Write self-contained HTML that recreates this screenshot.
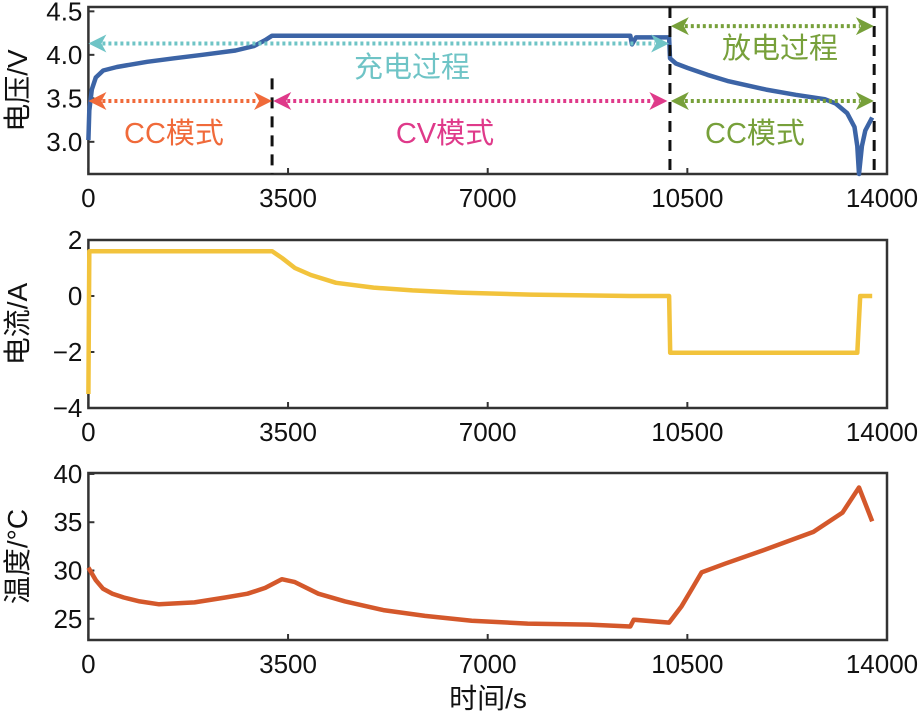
<!DOCTYPE html>
<html><head><meta charset="utf-8"><style>
body{margin:0;background:#fff;width:924px;height:716px;overflow:hidden}
svg{display:block}
text{font-family:"Liberation Sans","Noto Sans CJK SC",sans-serif}
</style></head><body>
<svg id="c" width="924" height="716" xmlns="http://www.w3.org/2000/svg"></svg>
<script>
const xTicks=[0,3500,7000,10500,14000];
const vTicks=[3.0,3.5,4.0,4.5];
const iTicks=[-4,-2,0,2];
const tTicks=[25,30,35,40];
const vTime=[0,15,60,130,260,500,1030,1500,2000,2580,2900,3100,3220,4650,9500,9530,9600,10180,10195,10300,10500,10850,11200,11880,12400,12910,13100,13300,13430,13480,13510,13560,13620,13740];
const vVals=[3.02,3.36,3.6,3.74,3.82,3.86,3.92,3.96,4.0,4.05,4.1,4.17,4.22,4.22,4.22,4.12,4.20,4.20,3.96,3.90,3.85,3.77,3.70,3.60,3.54,3.49,3.44,3.33,3.17,2.95,2.63,2.95,3.13,3.28];
const iTime=[0,15,3220,3400,3620,3900,4340,5000,5680,6500,7750,9500,10180,10200,13480,13530,13740];
const iVals=[-3.5,1.6,1.6,1.35,1.0,0.75,0.47,0.3,0.2,0.12,0.05,0,0,-2.03,-2.03,0,0];
const tTime=[0,130,258,420,620,900,1240,1860,2400,2790,3100,3390,3620,4030,4500,5170,5900,6720,7700,8780,9500,9560,10180,10400,10600,10750,11160,11880,12710,13220,13510,13740];
const tVals=[30.3,29.0,28.1,27.6,27.2,26.8,26.5,26.7,27.2,27.6,28.2,29.1,28.8,27.6,26.8,25.9,25.3,24.8,24.5,24.4,24.2,24.9,24.6,26.3,28.3,29.8,30.7,32.2,34.0,36.0,38.6,35.1];
const svg=document.getElementById('c');const NS='http://www.w3.org/2000/svg';
function mk(t,a,txt){const e=document.createElementNS(NS,t);for(const k in a)e.setAttribute(k,a[k]);if(txt!==undefined)e.textContent=txt;svg.appendChild(e);return e;}
const X0=88.4,X1=887;
const xs=v=>X0+(v/14000)*(X1-X0);
function panel(name,top,bot,ymin,ymax,yt,ylabel,time,vals,color,fmt){
  const ys=v=>bot-(v-ymin)/(ymax-ymin)*(bot-top);
  let r=mk('rect',{x:X0,y:top,width:X1-X0,height:bot-top,fill:'none',stroke:'#333',"stroke-width":2.5});
  
  
  xTicks.forEach(t=>{
    let l=mk('line',{x1:xs(t),x2:xs(t),y1:bot,y2:bot-6,stroke:'#333','stroke-width':2});
    
    
    let tx=mk('text',{x:xs(t)-(t==14000?5:0),y:bot+33,'text-anchor':'middle','font-size':26,fill:'#111'},String(t));
    
    
  });
  yt.forEach(t=>{
    let l=mk('line',{x1:X0,x2:X0+6,y1:ys(t),y2:ys(t),stroke:'#333','stroke-width':2});
    
    
    let tx=mk('text',{x:X0-6,y:ys(t)+9,'text-anchor':'end','font-size':26,fill:'#111'},fmt(t));
    
    
  });
  const cy=(top+bot)/2;
  let yl=mk('text',{x:27,y:cy,'text-anchor':'middle','font-size':28,fill:'#111',transform:`rotate(-90 27 ${cy})`},ylabel);
  
  
  let d=time.map((t,i)=>(i?'L':'M')+xs(t).toFixed(1)+','+ys(vals[i]).toFixed(1)).join(' ');
  let p=mk('path',{d:d,fill:'none',stroke:color,'stroke-width':4.5,'stroke-linejoin':'round'});
  
  
  return ys;
}
const vy=panel('voltage',7,174,2.63,4.55,vTicks,'电压/V',vTime,vVals,'#3c64a6',v=>v.toFixed(1));
panel('current',240,408,-4,2,iTicks,'电流/A',iTime,iVals,'#f2c33c',v=>v<0?'−'+(-v):String(v));
panel('temperature',473,640,22.8,40.1,tTicks,'温度/°C',tTime,tVals,'#d4582b',v=>String(v));
let xl=mk('text',{x:488,y:708,'text-anchor':'middle','font-size':28,fill:'#111'},'时间/s');


[[3220,3.73,2.63],[10195,4.55,2.63],[13775,4.55,2.63]].forEach(a=>{
  let l=mk('line',{x1:xs(a[0]),x2:xs(a[0]),y1:vy(a[1]),y2:vy(a[2]),stroke:'#111','stroke-width':3,'stroke-dasharray':'11,8'});
  
  
});
function arrow(name,x1,x2,y,col){
  const a=xs(x1),b=xs(x2);
  let g=mk('g',{});
  
  
  const l=document.createElementNS(NS,'line');
  [['x1',a+14],['x2',b-14],['y1',y],['y2',y],['stroke',col],['stroke-width',4],['stroke-dasharray','3,3']].forEach(k=>l.setAttribute(k[0],k[1]));
  g.appendChild(l);
  [[a,1],[b,-1]].forEach(([x,s])=>{const p=document.createElementNS(NS,'path');p.setAttribute('d',`M${x},${y} L${x+s*18},${y-9} L${x+s*13},${y} L${x+s*18},${y+9} Z`);p.setAttribute('fill',col);g.appendChild(p);});
}
arrow('charge-process-arrow',0,10180,vy(4.13),'#6fc4c6');
arrow('cc-charge-arrow',0,3220,vy(3.47),'#f06a3a');
arrow('cv-arrow',3240,10150,vy(3.47),'#df3a8a');
arrow('cc-discharge-arrow',10210,13770,vy(3.47),'#77a03a');
arrow('discharge-process-arrow',10210,13770,vy(4.33),'#77a03a');
function lab(name,x,y,col,t){let e=mk('text',{x:x,y:y,'text-anchor':'middle','font-size':29,fill:col},t);
  
  }
lab('charge-process-label',412,77,'#6fc4c6','充电过程');
lab('discharge-process-label',780,58,'#77a03a','放电过程');
lab('cc-charge-label',174,143,'#f06a3a','CC模式');
lab('cv-label',445,143,'#df3a8a','CV模式');
lab('cc-discharge-label',755,143,'#77a03a','CC模式');
</script>
</body></html>
